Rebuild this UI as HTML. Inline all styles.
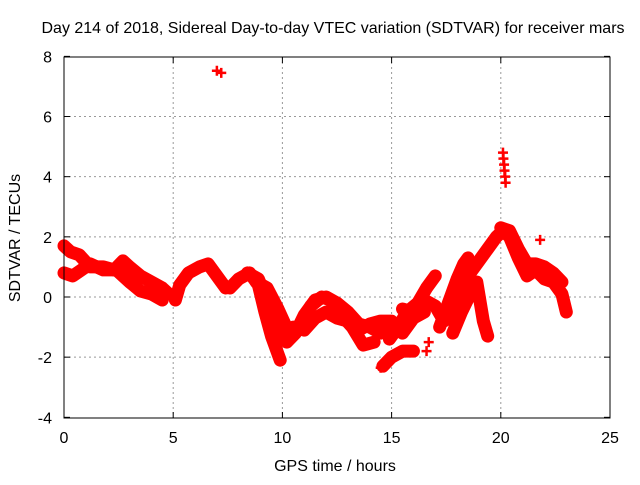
<!DOCTYPE html>
<html><head><meta charset="utf-8"><style>
body{margin:0;background:#fff}
svg text{font-family:"Liberation Sans",Arial,sans-serif;font-size:16px;fill:#000}
</style></head><body>
<svg id="chart" width="640" height="480">
<text x="333" y="33" text-anchor="middle">Day 214 of 2018, Sidereal Day-to-day VTEC variation (SDTVAR) for receiver mars</text>
<text x="335" y="471" text-anchor="middle">GPS time / hours</text>
<text transform="translate(20,238) rotate(-90)" text-anchor="middle">SDTVAR / TECUs</text>
<g id="grid"></g><g id="ticks"></g><g id="marks"></g>
<rect x="64" y="57" width="546" height="361" fill="none" stroke="#000" stroke-width="1"/>
</svg>
<script>
const xTicks=[0,5,10,15,20,25];
const yTicks=[-4,-2,0,2,4,6,8];
const trackA=[[0,1.7],[0.3,1.5],[0.7,1.4],[1.2,1.0],[1.8,1.0],[2.3,0.9],[2.7,1.2],[3.0,1.0],[3.5,0.7],[4.0,0.5],[4.5,0.3],[4.8,0.1]];
const trackB=[[0,0.8],[0.4,0.7],[0.8,0.9],[1.2,1.1],[1.8,0.9],[2.4,0.9],[3.0,0.5],[3.5,0.2],[4.0,0.1],[4.5,-0.1]];
const trackC=[[5.1,-0.1],[5.3,0.4],[5.7,0.8],[6.2,1.0],[6.6,1.1],[6.9,0.8],[7.2,0.5],[7.4,0.3]];
const trackD=[[7.6,0.3],[8.0,0.6],[8.5,0.8],[8.9,0.4],[9.2,-0.5],[9.5,-1.3],[9.9,-2.1]];
const trackE=[[8.4,0.8],[8.9,0.6],[9.4,-0.3],[9.8,-1.0],[10.2,-1.5],[10.6,-1.2],[11.0,-0.6],[11.5,-0.1],[12.0,0.0],[12.5,-0.2],[13,-0.5],[13.5,-0.9],[14,-1.0],[14.5,-1.2],[15,-1.0]];
const trackF=[[8.8,0.5],[9.3,0.3],[9.8,-0.4],[10.3,-1.2],[10.8,-1.0],[11.3,-0.3],[11.8,0.0],[12.2,-0.1],[12.7,-0.6],[13.2,-1.0],[13.7,-1.6],[14.2,-1.5]];
const trackG=[[10.5,-1.0],[11.0,-1.1],[11.5,-0.7],[12.0,-0.5],[12.5,-0.7],[13.0,-0.8],[13.5,-1.1],[14.0,-0.9],[14.5,-0.8],[15,-0.8],[15.5,-1.2],[16,-0.7],[16.5,-0.5]];
const trackH=[[14.9,-1.4],[15.3,-1.0],[15.7,-0.5],[16.2,-0.2],[16.6,0.3],[17.0,0.7]];
const trackI=[[15.5,-0.4],[16.0,-0.5],[16.5,-0.1],[17,-0.3],[17.4,-0.8],[17.8,-0.6],[18.2,0.0],[18.6,0.8],[19,1.2],[19.4,1.6],[19.8,2.0],[20.1,2.2],[20.4,2.0],[20.8,1.3],[21.2,0.7],[21.6,0.9],[22.0,0.6],[22.4,0.5],[22.8,0.1],[23.0,-0.5]];
const trackJ=[[17.8,-1.2],[18.2,-0.5],[18.6,0.1],[18.9,0.5],[19.2,-0.8],[19.4,-1.3]];
const trackK=[[17.2,-1.0],[17.6,-0.2],[18.0,0.6],[18.3,1.1],[18.5,1.3]];
const trackL=[[20,2.3],[20.4,2.2],[20.8,1.6],[21.2,1.1],[21.6,1.1],[22.0,1.0],[22.4,0.8],[22.8,0.5]];
const trackM=[[14.6,-2.3],[15.0,-2.0],[15.5,-1.8],[16.0,-1.8]];
const isolated=[[7.0,7.52],[7.2,7.45],[20.1,4.8],[20.12,4.6],[20.15,4.4],[20.17,4.2],[20.2,4.0],[20.22,3.8],[21.8,1.9],[14.5,-2.35],[16.6,-1.8],[16.7,-1.5]];
const tracks=[trackA,trackB,trackC,trackD,trackE,trackF,trackG,trackH,trackI,trackJ,trackK,trackL,trackM];
const X=h=>64+h*21.84, Y=v=>297-v*30.08;
const NS="http://www.w3.org/2000/svg";
const grid=document.getElementById('grid'),ticks=document.getElementById('ticks'),marks=document.getElementById('marks');
function mk(tag,attrs,parent){const e=document.createElementNS(NS,tag);for(const k in attrs)e.setAttribute(k,attrs[k]);parent.appendChild(e);return e;}
xTicks.forEach(t=>{
 if(t>0&&t<25){const g=mk('line',{x1:X(t),x2:X(t),y1:57,y2:418,stroke:'#999','stroke-dasharray':'2,3'},grid);
 
 }
 mk('line',{x1:X(t),x2:X(t),y1:418,y2:412,stroke:'#000'},ticks);
 mk('line',{x1:X(t),x2:X(t),y1:57,y2:63,stroke:'#000'},ticks);
 const l=mk('text',{x:X(t),y:443,'text-anchor':'middle'},ticks);l.textContent=t;
 
 
});
yTicks.forEach(t=>{
 if(t>-4&&t<8){const g=mk('line',{x1:64,x2:610,y1:Y(t),y2:Y(t),stroke:'#999','stroke-dasharray':'2,3'},grid);
 
 }
 mk('line',{x1:64,x2:70,y1:Y(t),y2:Y(t),stroke:'#000'},ticks);
 mk('line',{x1:610,x2:604,y1:Y(t),y2:Y(t),stroke:'#000'},ticks);
 const l=mk('text',{x:52,y:Y(t)+6,'text-anchor':'end'},ticks);l.textContent=t;
 
 
});
function plus(p){const x=X(p[0]),y=Y(p[1]);
 const m=mk('path',{d:`M${x-5},${y}H${x+5}M${x},${y-5}V${y+5}`,stroke:'#f00','stroke-width':2.5},marks);
 
 }
tracks.forEach(tr=>{
 const pl=mk('polyline',{points:tr.map(p=>X(p[0])+','+Y(p[1])).join(' '),fill:'none',stroke:'#f00','stroke-width':13,'stroke-linejoin':'round','stroke-linecap':'round'},marks);
 
 
 tr.forEach(plus);
});
isolated.forEach(plus);
</script>
</body></html>
